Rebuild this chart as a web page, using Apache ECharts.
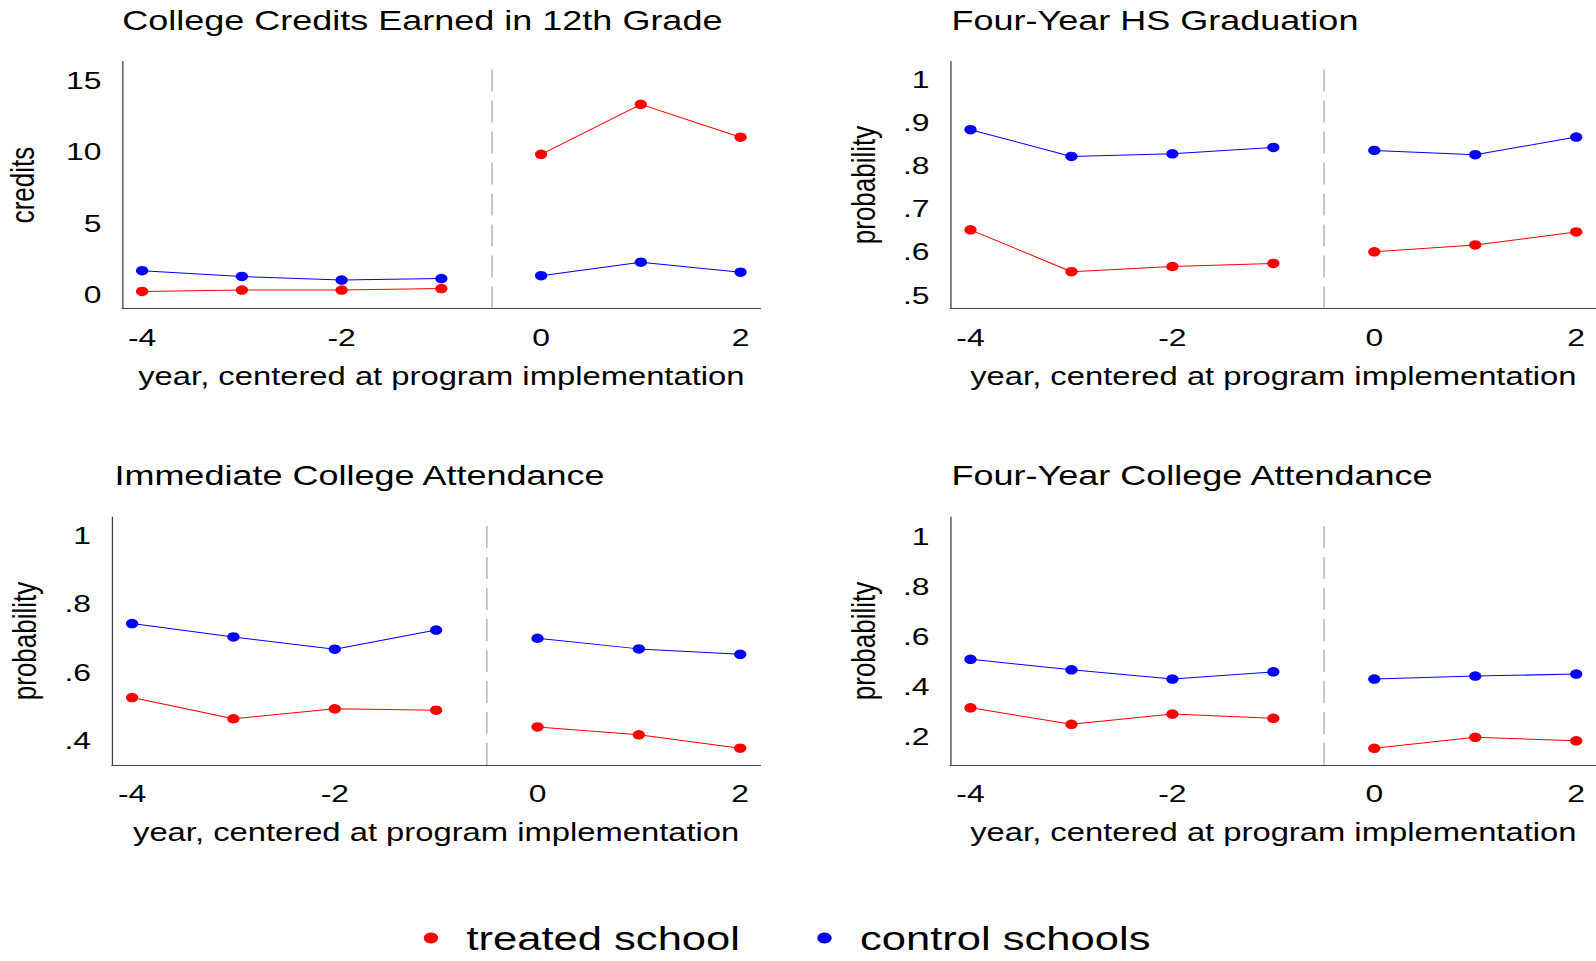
<!DOCTYPE html>
<html>
<head>
<meta charset="utf-8">
<script src="https://cdn.jsdelivr.net/npm/echarts@6/dist/echarts.min.js"></script>
<style>
  html, body { margin: 0; padding: 0; background: #fff; overflow: hidden; }
  /* the source graph is stretched sideways, so the chart is drawn narrow and widened */
  #chart { width: 1228px; height: 961px; transform: scaleX(1.3); transform-origin: 0 0; }
</style>
</head>
<body>
<div id="chart"></div>
<script>
var years = [-4, -3, -2, -1, 0, 1, 2];

var creditsTreated = [0.2, 0.3, 0.3, 0.4, 9.8, 13.3, 11.0];
var creditsControl = [1.65, 1.25, 1.0, 1.1, 1.3, 2.25, 1.55];
var gradTreated = [0.651, 0.554, 0.566, 0.573, 0.600, 0.616, 0.646];
var gradControl = [0.883, 0.821, 0.827, 0.842, 0.835, 0.825, 0.866];
var attendTreated = [0.526, 0.464, 0.493, 0.489, 0.440, 0.417, 0.378];
var attendControl = [0.742, 0.703, 0.667, 0.723, 0.699, 0.668, 0.652];
var fourYrTreated = [0.313, 0.247, 0.288, 0.271, 0.151, 0.195, 0.181];
var fourYrControl = [0.507, 0.465, 0.428, 0.457, 0.428, 0.440, 0.448];

var xTicks = [-4, -2, 0, 2];
var creditsTicks = [0, 5, 10, 15];
var gradTicks = [0.5, 0.6, 0.7, 0.8, 0.9, 1];
var attendTicks = [0.4, 0.6, 0.8, 1];
var fourYrTicks = [0.2, 0.4, 0.6, 0.8, 1];

var titles = ['College Credits Earned in 12th Grade', 'Four-Year HS Graduation',
  'Immediate College Attendance', 'Four-Year College Attendance'];
var yNames = ['credits', 'probability', 'probability', 'probability'];

var FONT = "'Liberation Sans', Arial, sans-serif";
var RED = '#ff0000', BLUE = '#0000ff';

var panels = [
  { grid: { left: 94, top: 61.5, width: 491, height: 247 }, min: -0.994, max: 16.3, ticks: creditsTicks, treated: creditsTreated, control: creditsControl, nameGap: 64, titleLeft: 94, titleTop: 7 },
  { grid: { left: 731, top: 61.5, width: 497, height: 247 }, min: 0.4687, max: 1.041, ticks: gradTicks, treated: gradTreated, control: gradControl, nameGap: 54, titleLeft: 732, titleTop: 7 },
  { grid: { left: 86, top: 517, width: 499, height: 248 }, min: 0.329, max: 1.053, ticks: attendTicks, treated: attendTreated, control: attendControl, nameGap: 54, titleLeft: 88, titleTop: 462 },
  { grid: { left: 731, top: 517, width: 497, height: 248 }, min: 0.084, max: 1.077, ticks: fourYrTicks, treated: fourYrTreated, control: fourYrControl, nameGap: 54, titleLeft: 732, titleTop: 462 }
];

function pairs(vals, pre) {
  var out = [];
  for (var i = 0; i < years.length; i++) {
    if ((years[i] < 0) === pre) out.push([years[i], vals[i]]);
  }
  return out;
}

function fmtY(v) {
  return v === 1 ? '1' : String(v).replace(/^0\./, '.');
}

var grids = [], xAxes = [], yAxes = [], series = [], title = [];

panels.forEach(function (p, k) {
  grids.push(p.grid);
  title.push({
    text: titles[k], left: p.titleLeft, top: p.titleTop, padding: 0,
    textStyle: { fontFamily: FONT, fontSize: 27.7, fontWeight: 'normal', color: '#000' }
  });
  xAxes.push({
    type: 'value', gridIndex: k, min: -4.2, max: 2.2,
    name: 'year, centered at program implementation', nameLocation: 'middle', nameGap: 55,
    nameTextStyle: { fontFamily: FONT, fontSize: 25.2, color: '#000' },
    axisLine: { show: true, onZero: false, lineStyle: { color: '#444', width: 1 } },
    axisTick: { show: false },
    splitLine: { show: false },
    axisLabel: { customValues: xTicks, margin: 16, fontFamily: FONT, fontSize: 24.5, color: '#000' }
  });
  yAxes.push({
    type: 'value', gridIndex: k, min: p.min, max: p.max,
    name: yNames[k], nameLocation: 'middle', nameGap: p.nameGap,
    nameTextStyle: { fontFamily: FONT, fontSize: 26, color: '#000' },
    axisLine: { show: true, onZero: false, lineStyle: { color: '#444', width: 1 } },
    axisTick: { show: false },
    splitLine: { show: false },
    axisLabel: { customValues: p.ticks, margin: 16, fontFamily: FONT, fontSize: 24.5, color: '#000', formatter: fmtY }
  });
  [true, false].forEach(function (pre) {
    series.push({
      name: 'treated school', type: 'line', xAxisIndex: k, yAxisIndex: k,
      data: pairs(p.treated, pre), color: RED,
      symbol: 'circle', symbolSize: 9.5, lineStyle: { width: 1, color: RED },
      itemStyle: { color: RED }
    });
    series.push({
      name: 'control schools', type: 'line', xAxisIndex: k, yAxisIndex: k,
      data: pairs(p.control, pre), color: BLUE,
      symbol: 'circle', symbolSize: 9.5, lineStyle: { width: 1, color: BLUE },
      itemStyle: { color: BLUE },
      markLine: pre ? {
        silent: true, symbol: ['none', 'none'], label: { show: false },
        lineStyle: { color: '#aaa', width: 1, type: [22, 9] },
        data: [{ xAxis: -0.5 }]
      } : undefined
    });
  });
});

var myChart = echarts.init(document.getElementById('chart'), null, { renderer: 'svg' });
var option = {
  animation: false,
  backgroundColor: '#fff',
  title: title,
  grid: grids,
  xAxis: xAxes,
  yAxis: yAxes,
  legend: {
    data: ['treated school', 'control schools'],
    left: 326, top: 921, padding: 0,
    icon: 'circle', itemWidth: 44.6, itemHeight: 11, itemGap: 59.5,
    textStyle: { fontFamily: FONT, fontSize: 33.5, color: '#000' }
  },
  series: series
};
myChart.setOption(option);
</script>
</body>
</html>
